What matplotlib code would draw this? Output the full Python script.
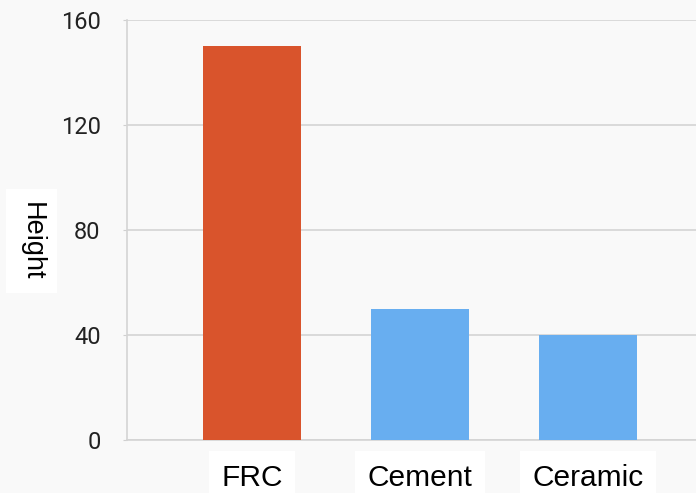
import matplotlib
matplotlib.use("Agg")
import matplotlib.pyplot as plt

# data
materials = ["FRC", "Cement", "Ceramic"]
heights = [150, 50, 40]
bar_colors = ["#d9542c", "#68aef0", "#68aef0"]
y_ticks = [0, 40, 80, 120, 160]

fig = plt.figure(figsize=(6.96, 4.93), dpi=100)
fig.patch.set_facecolor("#f9f9f9")
ax = fig.add_axes([127 / 696, 53 / 493, 569 / 696, 420 / 493])
ax.set_facecolor("#f9f9f9")

x = list(range(len(materials)))
ax.bar(x, heights, width=0.583, color=bar_colors, zorder=3)

ax.set_xlim(-0.744, 2.643)
ax.set_ylim(0, 160)
ax.set_yticks(y_ticks)
ax.set_xticks(x)
ax.set_xticklabels(materials, fontsize=21.5, family="Liberation Sans",
                   bbox=dict(facecolor="white", edgecolor="none", pad=9))
ax.tick_params(axis="x", length=0, pad=17)
ax.tick_params(axis="y", length=3, color="#d0d0d0", pad=16, labelsize=17,
               labelcolor="#222222")
for lab in ax.get_yticklabels():
    lab.set_family("Roboto")

ax.grid(axis="y", color="#d4d4d4", linewidth=1.2, zorder=0)
ax.spines["right"].set_visible(False)
ax.spines["top"].set_visible(False)
ax.spines["left"].set_color("#d4d4d4")
ax.spines["bottom"].set_color("#d4d4d4")
ax.spines["left"].set_linewidth(1.2)
ax.spines["bottom"].set_linewidth(1.2)

ax.set_ylabel("Height", rotation=-90, fontsize=19.5, family="Liberation Sans",
              va="center", ha="center", rotation_mode="anchor",
              bbox=dict(facecolor="white", edgecolor="none", pad=9))
ax.yaxis.set_label_coords(-0.168, 0.474)

fig.savefig("out.png", dpi=100, facecolor=fig.get_facecolor())
